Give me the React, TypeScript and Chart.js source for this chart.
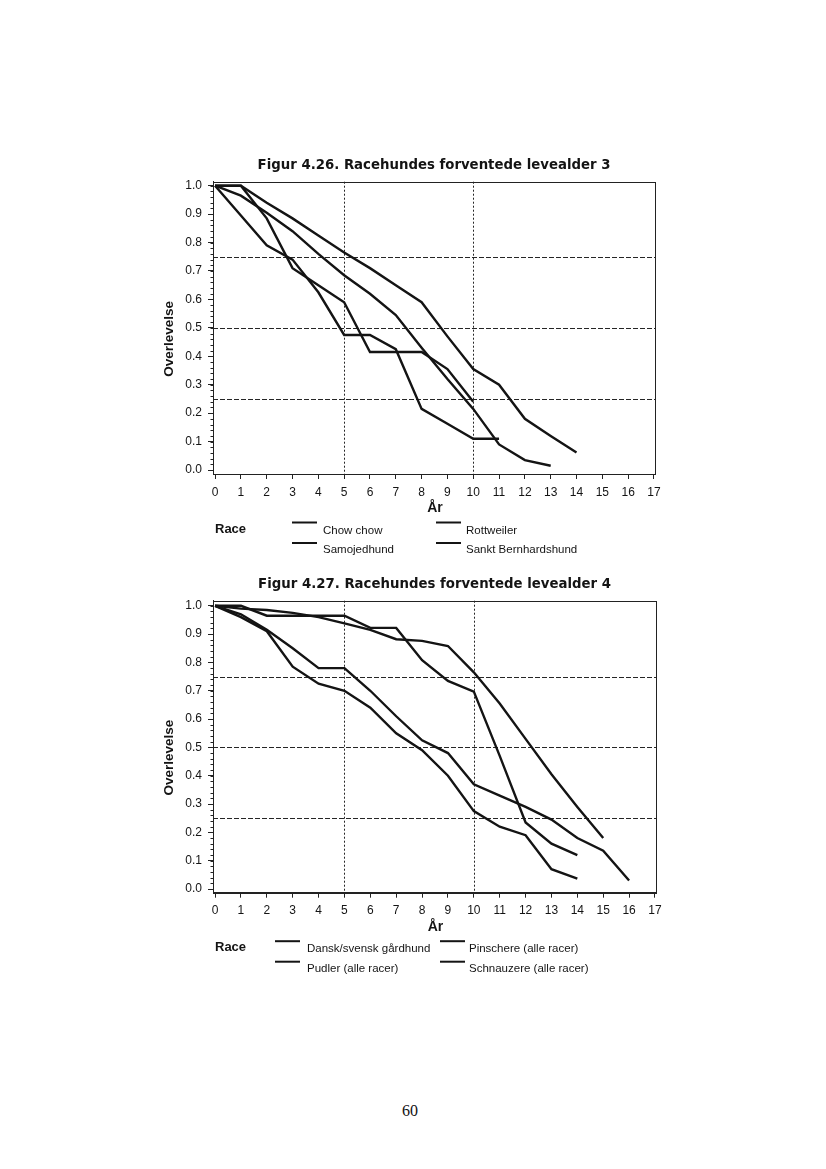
import React, { useEffect, useRef } from "react";
import { Chart, registerables } from "chart.js";

Chart.register(...registerables);

// ---------- data ----------
const years = [0, 1, 2, 3, 4, 5, 6, 7, 8, 9, 10, 11, 12, 13, 14, 15, 16, 17];
const yTicks = [0, 0.1, 0.2, 0.3, 0.4, 0.5, 0.6, 0.7, 0.8, 0.9, 1.0];
const refX = [5, 10];
const refY = [0.25, 0.5, 0.75];

const title1 = "Figur 4.26. Racehundes forventede levealder 3";
const names1 = ["Chow chow", "Samojedhund", "Rottweiler", "Sankt Bernhardshund"];
const chowChow = [1.0, 0.965, 0.905, 0.84, 0.76, 0.685, 0.62, 0.545, 0.43, 0.32, 0.215, 0.09, 0.035, 0.015];
const samojedhund = [1.0, 1.0, 0.94, 0.885, 0.825, 0.765, 0.71, 0.65, 0.59, 0.47, 0.355, 0.3, 0.18, 0.12, 0.062];
const rottweiler = [1.0, 1.0, 0.885, 0.71, 0.65, 0.59, 0.415, 0.415, 0.415, 0.355, 0.24];
const sanktBernhard = [1.0, 0.895, 0.79, 0.74, 0.625, 0.475, 0.475, 0.425, 0.215, 0.163, 0.11, 0.11];

const title2 = "Figur 4.27. Racehundes forventede levealder 4";
const names2 = ["Dansk/svensk gårdhund", "Pudler (alle racer)", "Pinschere (alle racer)", "Schnauzere (alle racer)"];
const gaardhund = [1.0, 0.99, 0.985, 0.975, 0.96, 0.938, 0.915, 0.882, 0.876, 0.858, 0.765, 0.655, 0.53, 0.405, 0.29, 0.18];
const pudler = [1.0, 0.97, 0.915, 0.85, 0.78, 0.78, 0.7, 0.61, 0.525, 0.48, 0.37, 0.33, 0.29, 0.245, 0.18, 0.135, 0.03];
const pinschere = [1.0, 1.0, 0.965, 0.965, 0.965, 0.965, 0.922, 0.922, 0.808, 0.735, 0.697, 0.47, 0.235, 0.16, 0.12];
const schnauzere = [1.0, 0.96, 0.91, 0.785, 0.725, 0.7, 0.64, 0.55, 0.49, 0.4, 0.275, 0.22, 0.19, 0.07, 0.037];

// ---------- chart ----------
const INK = "#141414";
const SANS = '"Liberation Sans", Arial, sans-serif';

type Props = {
  title: string;
  names: string[];
  series: number[][];
  left: number;
  top: number;
  width: number;
  height: number;
  areaTop: number;
  areaBottom: number;
  areaLeft: number;
  areaRight: number;
  yMax: number;
  yMin: number;
  lineX: number[];
  textX: number[];
};

function SurvChart(p: Props) {
  const ref = useRef<HTMLCanvasElement | null>(null);
  useEffect(() => {
    const canvas = ref.current;
    if (!canvas) return;
    const xAxisH = 30;
    const deco = {
      id: "deco",
      beforeDatasetsDraw(chart: any) {
        const { ctx, chartArea: a, scales } = chart;
        ctx.save();
        ctx.strokeStyle = "#262626";
        ctx.lineWidth = 1;
        ctx.setLineDash([5, 2]);
        refY.forEach((v) => {
          const y = Math.round(scales.y.getPixelForValue(v)) + 0.5;
          ctx.beginPath();
          ctx.moveTo(a.left, y);
          ctx.lineTo(a.right, y);
          ctx.stroke();
        });
        ctx.setLineDash([2, 2]);
        refX.forEach((v) => {
          const x = Math.round(scales.x.getPixelForValue(v)) + 0.5;
          ctx.beginPath();
          ctx.moveTo(x, a.top);
          ctx.lineTo(x, a.bottom);
          ctx.stroke();
        });
        ctx.restore();
      },
      afterDraw(chart: any) {
        const { ctx, chartArea: a, scales } = chart;
        ctx.save();
        ctx.strokeStyle = "#222";
        ctx.lineWidth = 1;
        ctx.setLineDash([]);
        ctx.strokeRect(Math.round(a.left) + 0.5, Math.round(a.top) + 0.5, Math.round(a.right - a.left), Math.round(a.bottom - a.top));
        // minor ticks on y axis
        for (let i = 0; i <= 50; i++) {
          const y = Math.round(scales.y.getPixelForValue(i * 0.02)) + 0.5;
          ctx.beginPath();
          ctx.moveTo(a.left, y);
          ctx.lineTo(a.left - 2.5, y);
          ctx.stroke();
        }
        ctx.fillStyle = INK;
        ctx.textBaseline = "middle";
        // title
        ctx.font = 'bold 13.3px "DejaVu Sans", Verdana, sans-serif';
        ctx.textAlign = "center";
        ctx.fillText(p.title, (a.left + a.right) / 2, a.top - 16);
        // x title
        ctx.font = `bold 14px ${SANS}`;
        ctx.fillText("År", (a.left + a.right) / 2 + 1, a.bottom + 34);
        // y title
        ctx.save();
        ctx.translate(a.left - 44, (a.top + a.bottom) / 2 + 11);
        ctx.rotate(-Math.PI / 2);
        ctx.font = `bold 13.5px ${SANS}`;
        ctx.fillText("Overlevelse", 0, 0);
        ctx.restore();
        // legend
        ctx.textAlign = "left";
        ctx.font = `bold 13px ${SANS}`;
        ctx.fillText("Race", 65, a.bottom + 55);
        ctx.font = `11.5px ${SANS}`;
        ctx.lineWidth = 2;
        ctx.strokeStyle = INK;
        p.names.forEach((n, i) => {
          const col = Math.floor(i / 2);
          const row = i % 2;
          const ly = a.bottom + 48.5 + row * 20.5;
          ctx.beginPath();
          ctx.moveTo(p.lineX[col], ly);
          ctx.lineTo(p.lineX[col] + 25, ly);
          ctx.stroke();
          ctx.fillText(n, p.textX[col], a.bottom + 56.5 + row * 19.5);
        });
        ctx.restore();
      },
    };
    const chart = new Chart(canvas, {
      type: "line",
      data: {
        datasets: p.series.map((s, i) => ({
          label: p.names[i],
          data: s.map((v, k) => ({ x: years[k], y: v })),
          borderColor: INK,
          borderWidth: 2.4,
          pointRadius: 0,
          tension: 0,
          fill: false,
        })),
      },
      options: {
        animation: false,
        responsive: false,
        devicePixelRatio: 1,
        layout: {
          padding: {
            top: p.areaTop,
            left: 0,
            right: p.width - p.areaRight,
            bottom: p.height - p.areaBottom - xAxisH,
          },
        },
        plugins: { legend: { display: false }, title: { display: false }, tooltip: { enabled: false } },
        scales: {
          x: {
            type: "linear",
            min: -0.08,
            max: 17.04,
            afterBuildTicks: (s: any) => {
              s.ticks = years.map((v) => ({ value: v }));
            },
            afterFit: (s: any) => {
              s.height = xAxisH;
            },
            ticks: {
              color: INK,
              font: { family: SANS, size: 12 },
              padding: 6,
              maxRotation: 0,
              autoSkip: false,
              callback: (v: any) => String(v),
            },
            grid: { display: true, drawOnChartArea: false, drawTicks: true, tickLength: 5, color: "#222" },
            border: { display: true, color: "#222", width: 1 },
          },
          y: {
            type: "linear",
            min: p.yMin,
            max: p.yMax,
            afterBuildTicks: (s: any) => {
              s.ticks = yTicks.map((v) => ({ value: v }));
            },
            afterFit: (s: any) => {
              s.width = p.areaLeft;
            },
            ticks: {
              color: INK,
              font: { family: SANS, size: 12 },
              padding: 6,
              autoSkip: false,
              callback: (v: any) => Number(v).toFixed(1),
            },
            grid: { display: true, drawOnChartArea: false, drawTicks: true, tickLength: 5, color: "#222" },
            border: { display: true, color: "#222", width: 1 },
          },
        },
      },
      plugins: [deco],
    } as any);
    return () => chart.destroy();
  }, []);
  return (
    <canvas
      ref={ref}
      width={p.width}
      height={p.height}
      style={{ position: "absolute", left: p.left, top: p.top, width: p.width, height: p.height }}
    />
  );
}

export default function App() {
  return (
    <div style={{ position: "absolute", left: 0, top: 0, width: 826, height: 1169, background: "#fff", overflow: "hidden" }}>
      <SurvChart
        title={title1}
        names={names1}
        series={[chowChow, samojedhund, rottweiler, sanktBernhard]}
        left={150}
        top={140}
        width={520}
        height={430}
        areaTop={41.7}
        areaBottom={334}
        areaLeft={63}
        areaRight={505}
        yMin={-0.014}
        yMax={1.014}
        lineX={[142, 286]}
        textX={[173, 316]}
      />
      <SurvChart
        title={title2}
        names={names2}
        series={[gaardhund, pudler, pinschere, schnauzere]}
        left={150}
        top={560}
        width={520}
        height={430}
        areaTop={40.7}
        areaBottom={332.7}
        areaLeft={63}
        areaRight={506}
        yMin={-0.013}
        yMax={1.018}
        lineX={[125, 290]}
        textX={[157, 319]}
      />
      <div
        style={{
          position: "absolute",
          left: 0,
          width: 820,
          top: 1102,
          textAlign: "center",
          fontFamily: '"Liberation Serif", "Times New Roman", serif',
          fontSize: 16,
          color: "#111",
        }}
      >
        60
      </div>
    </div>
  );
}
